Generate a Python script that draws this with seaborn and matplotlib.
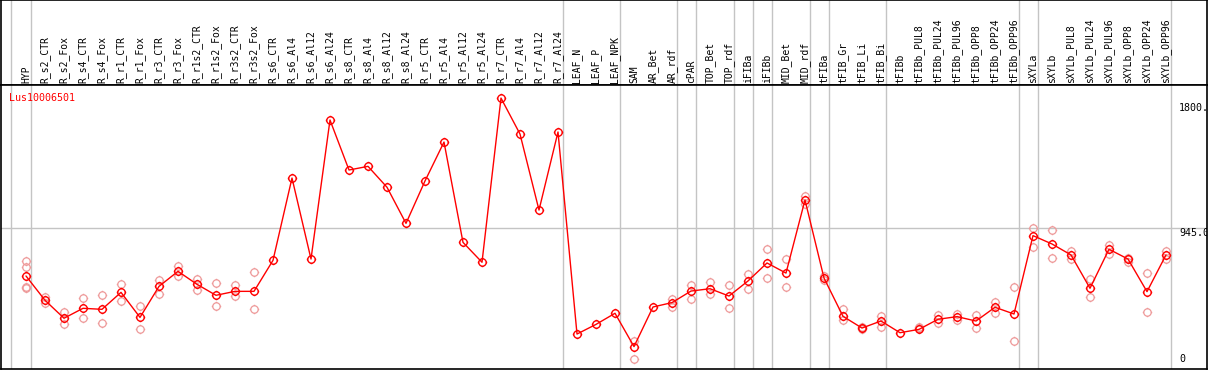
import numpy as np
import pandas as pd
import matplotlib
matplotlib.use("Agg")
import matplotlib.pyplot as plt
from matplotlib.path import Path
import seaborn as sns

categories = ["HYP", "R_s2_CTR", "R_s2_Fox", "R_s4_CTR", "R_s4_Fox", "R_r1_CTR", "R_r1_Fox",
              "R_r3_CTR", "R_r3_Fox", "R_r1s2_CTR", "R_r1s2_Fox", "R_r3s2_CTR", "R_r3s2_Fox",
              "R_s6_CTR", "R_s6_Al4", "R_s6_Al12", "R_s6_Al24", "R_s8_CTR", "R_s8_Al4",
              "R_s8_Al12", "R_s8_Al24", "R_r5_CTR", "R_r5_Al4", "R_r5_Al12", "R_r5_Al24",
              "R_r7_CTR", "R_r7_Al4", "R_r7_Al12", "R_r7_Al24", "LEAF_N", "LEAF_P", "LEAF_NPK",
              "SAM", "AR_Bet", "AR_rdf", "cPAR", "TOP_Bet", "TOP_rdf", "iFIBa", "iFIBb",
              "MID_Bet", "MID_rdf", "tFIBa", "tFIB_Gr", "tFIB_Li", "tFIB_Bi", "tFIBb",
              "tFIBb_PUL8", "tFIBb_PUL24", "tFIBb_PUL96", "tFIBb_OPP8", "tFIBb_OPP24",
              "tFIBb_OPP96", "sXYLa", "sXYLb", "sXYLb_PUL8", "sXYLb_PUL24", "sXYLb_PUL96",
              "sXYLb_OPP8", "sXYLb_OPP24", "sXYLb_OPP96"]

means = [617, 451, 328, 396, 389, 505, 334, 546, 649, 560, 485, 512, 512,
         724, 1287, 733, 1684, 1342, 1367, 1224, 977, 1267, 1533, 847, 711,
         1834, 1588, 1068, 1602, 220, 286, 362,
         134, 405, 435, 514, 530, 480, 583, 706, 637, 1137, 603, 341, 261, 309, 229,
         252, 321, 339, 309, 403, 357, 893, 836, 761, 533, 800, 733, 510, 761]

nan = np.nan
rep_high = [717, 471, 371, 464, 487, 562, 410, 587, 685, 599, 569, 555, 644,
            nan, nan, nan, nan, nan, nan, nan, nan, nan, nan, nan, nan,
            nan, nan, nan, nan, nan, nan, nan,
            175, nan, 460, 553, 576, 553, 631, 802, 733, 1164, 619, 391, 266, 345, nan,
            270, 350, 359, 348, 437, 540, 945, 929, 790, 594, 831, 740, 637, 786]
rep_low = [533, 430, 287, 328, 293, 444, 254, 496, 615, 519, 410, 480, 389,
           nan, nan, nan, nan, nan, nan, nan, nan, nan, nan, nan, nan,
           nan, nan, nan, nan, nan, nan, nan,
           47, nan, 405, 462, 492, 396, 530, 601, 540, 1109, 590, 316, 256, 270, nan,
           262, 295, 318, 263, 366, 170, 817, 740, 731, 471, 770, 711, 369, 735]
extra_cat = ["HYP", "HYP"]
extra_val = [678, 540]

group_ends = [0, 28, 31, 34, 35, 37, 38, 39, 41, 42, 45, 52, 53, 60]
title = "Lus10006501"
ytick_vals = [1800, 945, 0]
ytick_text = ["1800.", "945.0", "0"]

sns.set_style("white")
plt.rcParams["font.family"] = ["DejaVu Sans Mono", "DejaVu Sans"]

n = len(categories)
pos = np.arange(n)
idx = {c: i for i, c in enumerate(categories)}

df_main = pd.DataFrame({"x": pos, "y": means})
rx = list(pos) + list(pos) + [idx[c] for c in extra_cat]
ry = list(rep_high) + list(rep_low) + list(extra_val)
df_rep = pd.DataFrame({"x": rx, "y": ry}).dropna()

# circle marker with four small outer ticks
theta = np.linspace(0, 2 * np.pi, 41)
circ = Path(np.column_stack([np.cos(theta), np.sin(theta)]))
ticks = Path([(0, 1), (0, 1.28), (0, -1), (0, -1.28), (1, 0), (1.28, 0), (-1, 0), (-1.28, 0)],
             [Path.MOVETO, Path.LINETO] * 4)
mk = Path.make_compound_path(circ, ticks)

W, H = 1209, 370
fig = plt.figure(figsize=(W / 100, H / 100), dpi=100)
xl = ((1 - 26) / 19, (1207 - 26) / 19)
ax_h = fig.add_axes([1 / W, (H - 85) / H, 1206 / W, 85 / H])
ax = fig.add_axes([1 / W, (H - 369) / H, 1206 / W, 284 / H])

slope = 0.1462
y0 = 366.2
ylim = ((y0 - 369) / slope, (y0 - 85) / slope)

for a in (ax, ax_h):
    a.set_xlim(*xl)
    a.set_xticks([])
    a.set_yticks([])
    for s in a.spines.values():
        s.set_color("black")
        s.set_linewidth(1.2)
    a.set_facecolor("white")
    for g in group_ends:
        a.axvline(g + 0.25, color="#c4c4c4", lw=1.0, zorder=0)
    a.axvline(-0.805, color="#c4c4c4", lw=1.0, zorder=0)

ax.set_ylim(*ylim)
ax_h.set_ylim(0, 1)
ax.axhline(945, color="#c4c4c4", lw=1.0, zorder=0)

sns.lineplot(data=df_rep, x="x", y="y", estimator=None, ax=ax, linestyle="none",
             marker=mk, markersize=6.8, markerfacecolor="none", markeredgecolor="#ee9a9a",
             markeredgewidth=0.9, color="#ee9a9a", zorder=2)
sns.lineplot(data=df_main, x="x", y="y", estimator=None, sort=False, ax=ax, color="#ff0000",
             lw=1.0, marker=mk, markersize=6.8, markerfacecolor="none",
             markeredgecolor="#ff0000", markeredgewidth=1.0, zorder=3)
ax.set_xlabel("")
ax.set_ylabel("")
ax.set_xlim(*xl)
ax.set_ylim(*ylim)

for i, c in enumerate(categories):
    ax_h.text(i, 0.025, c, rotation=90, ha="center", va="bottom", fontsize=7, color="black")

ax.text((9.3 - 26) / 19, (y0 - 93) / slope, title, color="#ff0000", fontsize=7.2,
        ha="left", va="top")

tx = (1179 - 26) / 19
for v, t in zip(ytick_vals, ytick_text):
    va = "bottom" if v == 0 else "top"
    yy = v + (2 / slope if v == 0 else 0)
    ax.text(tx, yy, t, fontsize=7.2, ha="left", va=va, color="black", clip_on=True)

fig.savefig("out.png", dpi=100)
